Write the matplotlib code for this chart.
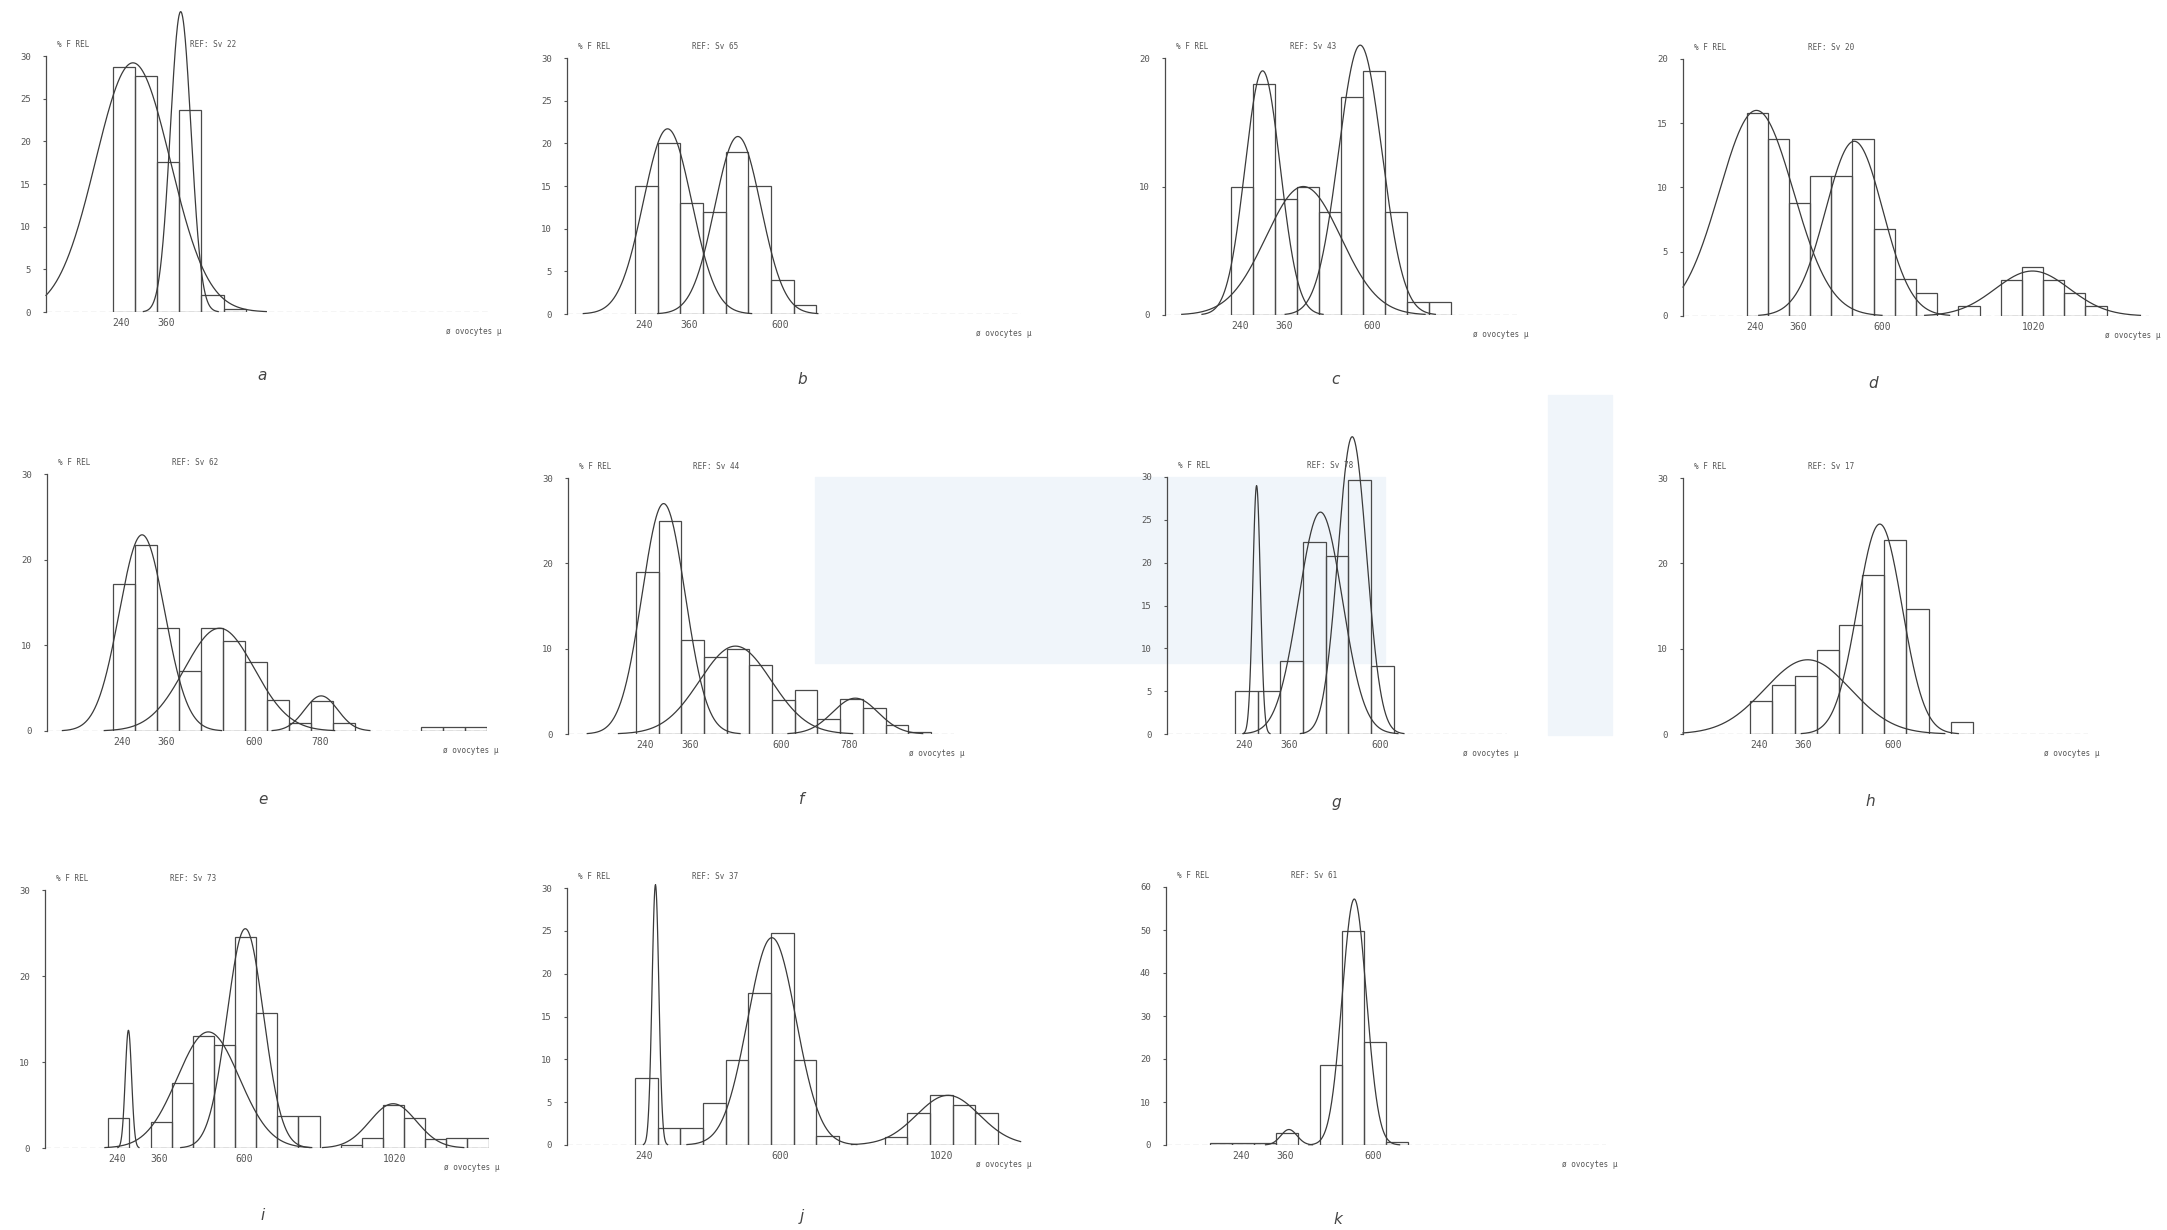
import numpy as np
import matplotlib.pyplot as plt
from matplotlib.patches import Rectangle

# relative frequency (%) per 60 micron class, class start given by *_start
a_start = 240
a_pct = [28.7, 27.7, 17.6, 23.7, 2.0, 0.3]
b_start = 240
b_pct = [15, 20, 13, 12, 19, 15, 4, 1]
c_start = 240
c_pct = [10, 18, 9, 10, 8, 17, 19, 8, 1, 1]
d_start = 240
d_pct = [15.8, 13.8, 8.8, 10.9, 10.9, 13.8, 6.8, 2.9, 1.8, 0, 0.8, 0, 2.8, 3.8, 2.8, 1.8, 0.8]
e_start = 240
e_pct = [17.2, 21.7, 12, 7, 12, 10.5, 8.1, 3.6, 0.9, 3.5, 0.9, 0, 0, 0, 0.5, 0.5, 0.5]
f_start = 240
f_pct = [19, 25, 11, 9, 10, 8.1, 4, 5.1, 1.8, 4.1, 3, 1, 0.2]
g_start = 240
g_pct = [5, 5, 8.5, 22.4, 20.8, 29.7, 7.9]
h_start = 240
h_pct = [3.9, 5.8, 6.8, 9.8, 12.8, 18.6, 22.7, 14.6, 0, 1.4]
i_start = 240
i_pct = [3.5, 0, 3, 7.6, 13, 12, 24.5, 15.7, 3.7, 3.7, 0, 0.4, 1.2, 5, 3.5, 1, 1.2, 1.2]
j_start = 240
j_pct = [7.8, 2, 2, 4.9, 9.9, 17.7, 24.7, 9.9, 1, 0, 0, 0.9, 3.7, 5.8, 4.7, 3.7]
k_start = 180
k_pct = [0.5, 0.4, 0.5, 2.7, 0, 18.5, 49.7, 23.9, 0.8]

# fitted normal components: (mean, sd, peak height)
a_fits = [(295, 101, 29.2), (424, 28, 35.2)]
b_fits = [(326, 64, 21.7), (512, 61, 20.8)]
c_fits = [(326, 48, 19.0), (437, 102, 10.0), (592, 59, 21.0)]
d_fits = [(268, 105, 16.0), (545, 81, 13.6), (1050, 105, 3.5)]
e_fits = [(319, 62, 22.9), (530, 95, 12.0), (807, 45, 4.1)]
f_fits = [(313, 57, 27.0), (503, 95, 10.3), (820, 60, 4.2)]
g_fits = [(297, 10, 29.0), (466, 58, 25.9), (550, 38, 34.7)]
h_fits = [(395, 115, 8.7), (589, 60, 24.6)]
i_fits = [(297, 9, 13.7), (524, 88, 13.5), (629, 52, 25.5), (1049, 66, 5.15)]
j_fits = [(294, 9, 30.4), (602, 64, 24.2), (1068, 83, 5.8)]
k_fits = [(395, 22, 3.6), (573, 33, 57.2)]

refs = ["22", "65", "43", "20", "62", "44", "78", "17", "73", "37", "61"]
letters = ["a", "b", "c", "d", "e", "f", "g", "h", "i", "j", "k"]
xlabels = [[240, 360], [240, 360, 600], [240, 360, 600], [240, 360, 600, 1020],
           [240, 360, 600, 780], [240, 360, 600, 780], [240, 360, 600],
           [240, 360, 600], [240, 360, 600, 1020], [240, 600, 1020], [240, 360, 600]]
yscales = [(30, 5), (30, 5), (20, 10), (20, 5), (30, 10), (30, 10), (30, 5),
           (30, 10), (30, 10), (30, 5), (60, 10)]

starts = [a_start, b_start, c_start, d_start, e_start, f_start, g_start, h_start,
          i_start, j_start, k_start]
pcts = [a_pct, b_pct, c_pct, d_pct, e_pct, f_pct, g_pct, h_pct, i_pct, j_pct, k_pct]
fits = [a_fits, b_fits, c_fits, d_fits, e_fits, f_fits, g_fits, h_fits, i_fits,
        j_fits, k_fits]

# layout in pixels: left, y of top, y of zero, x max, px per unit
boxes = [(46, 56, 312, 1260, 0.370), (567, 58, 314, 1260, 0.378),
         (1165, 58, 315, 1020, 0.367), (1683, 59, 316, 1380, 0.353),
         (47, 474, 731, 1260, 0.367), (568, 478, 734, 1080, 0.378),
         (1167, 477, 734, 960, 0.378), (1683, 478, 734, 1150, 0.372),
         (45, 890, 1148, 1320, 0.352), (567, 888, 1145, 1260, 0.378),
         (1166, 887, 1145, 1260, 0.367)]
letter_pos = [(262, 376), (802, 380), (1335, 380), (1873, 383), (263, 799),
              (802, 799), (1336, 802), (1870, 802), (263, 1216), (802, 1216),
              (1338, 1219)]

W, H = 2167, 1230
ink = "#4a4a4a"
mono = "DejaVu Sans Mono"

fig = plt.figure(figsize=(W / 100, H / 100), dpi=100)
# faint bluish patches of the scanned page
fig.patches.append(Rectangle((815 / W, 1 - 663 / H), 570 / W, 186 / H,
                             transform=fig.transFigure, color="#f0f5fa", zorder=-5))
fig.patches.append(Rectangle((1548 / W, 1 - 735 / H), 64 / W, 340 / H,
                             transform=fig.transFigure, color="#f0f5fa", zorder=-5))

for n in range(11):
    L, top, bot, xmax, sc = boxes[n]
    xmin = 60
    ax = fig.add_axes([L / W, 1 - bot / H, (xmax - xmin) * sc / W, (bot - top) / H])
    ax.patch.set_alpha(0)
    ymax, ystep = yscales[n]
    ax.set_xlim(xmin, xmax)
    ax.set_ylim(0, ymax)

    # histogram outline
    lefts = starts[n] + 60 * np.arange(len(pcts[n]))
    hts = np.array(pcts[n])
    keep = hts > 0
    ax.bar(lefts[keep], hts[keep], width=60, align="edge", fill=False,
           edgecolor=ink, linewidth=0.9)

    # normal components
    xs = np.linspace(xmin, xmax, 1200)
    for mu, sd, pk in fits[n]:
        ys = pk * np.exp(-0.5 * ((xs - mu) / sd) ** 2)
        m = ys > 0.05
        ax.plot(xs[m], ys[m], color="#3a3a3a", lw=0.9, clip_on=False)

    # dashed zero line
    ax.plot([xmin, xmax], [0, 0], color=ink, lw=0.8, ls=(0, (5, 3)))

    for s in ["top", "right", "bottom"]:
        ax.spines[s].set_visible(False)
    ax.spines["left"].set_color(ink)
    ax.spines["left"].set_linewidth(0.9)

    ax.set_yticks(np.arange(0, ymax + 1, ystep))
    ax.tick_params(axis="y", length=2, pad=9, labelsize=6.5, colors="#555",
                   labelfontfamily=mono)
    ax.set_xticks(xlabels[n])
    ax.set_xticklabels([str(v) for v in xlabels[n]], ha="left")
    ax.tick_params(axis="x", length=0, pad=4, labelsize=7, colors="#555",
                   labelfontfamily=mono)

    ax.annotate("ø ovocytes µ", xy=(xmax, 0), xytext=(8, -14), textcoords="offset points",
                ha="right", va="center", fontsize=5.5, family=mono, color="#555")
    ax.annotate("% F REL", xy=(0, 1), xycoords="axes fraction", xytext=(8, 8),
                textcoords="offset points", ha="left", va="center", fontsize=5.5,
                family=mono, color="#555")
    ref_dx = 104 if n == 0 else (101 if n == 6 else 90)
    ax.annotate("REF: Sv " + refs[n], xy=(0, 1), xycoords="axes fraction",
                xytext=(ref_dx, 8), textcoords="offset points", ha="left",
                va="center", fontsize=5.5, family=mono, color="#555")

    lx, ly = letter_pos[n]
    fig.text(lx / W, 1 - ly / H, letters[n], ha="center", va="center",
             fontsize=11, style="italic", color="#444")

fig.savefig("out.png", dpi=100)
